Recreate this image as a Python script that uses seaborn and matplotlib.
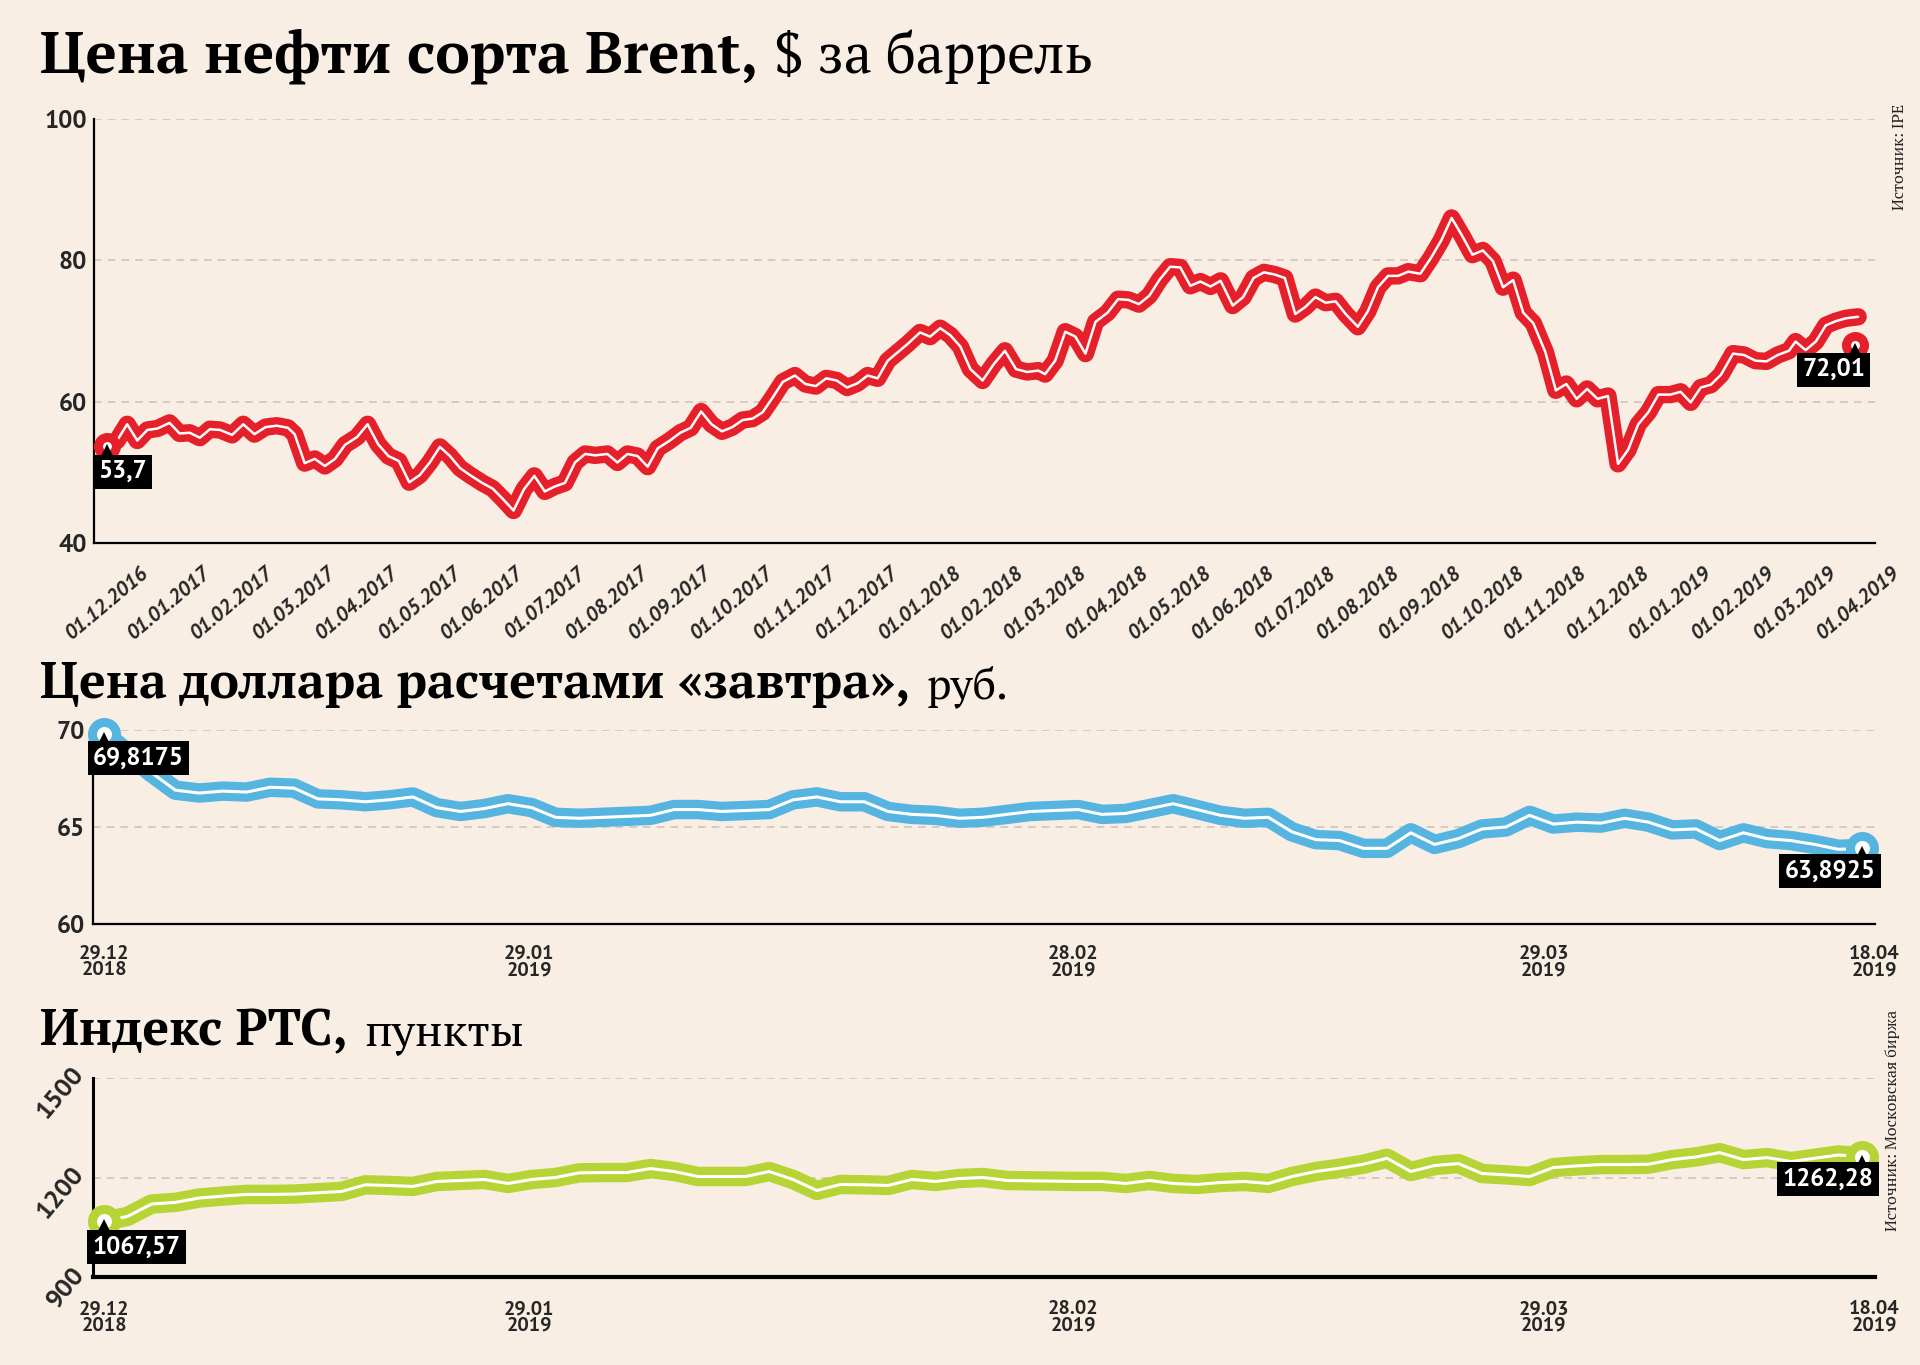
import numpy as np
import pandas as pd
import seaborn as sns
import matplotlib
matplotlib.use("Agg")
import matplotlib.pyplot as plt
from matplotlib import font_manager as fm
from matplotlib.transforms import ScaledTranslation

# ---------------- DATA ----------------
brent_month_labels = ["01.12.2016", "01.01.2017", "01.02.2017", "01.03.2017", "01.04.2017",
                      "01.05.2017", "01.06.2017", "01.07.2017", "01.08.2017", "01.09.2017",
                      "01.10.2017", "01.11.2017", "01.12.2017", "01.01.2018", "01.02.2018",
                      "01.03.2018", "01.04.2018", "01.05.2018", "01.06.2018", "01.07.2018",
                      "01.08.2018", "01.09.2018", "01.10.2018", "01.11.2018", "01.12.2018",
                      "01.01.2019", "01.02.2019", "01.03.2019", "01.04.2019"]
brent_sample_days = [1, 6, 11, 16, 21, 26]
brent_values = [
    53.7, 54.5, 56.8, 54.5, 56.0, 56.2,   # 12.2016
    57.0, 55.5, 55.6, 54.9, 56.1, 56.0,   # 01.2017
    55.3, 56.8, 55.4, 56.4, 56.6, 56.3,
    55.4, 51.3, 51.9, 50.9, 51.9, 53.9,
    55.0, 56.8, 54.0, 52.3, 51.6, 48.6,
    49.6, 51.4, 53.6, 52.3, 50.6, 49.6,
    48.5, 47.7, 46.2, 44.6, 47.6, 49.5,
    47.3, 48.0, 48.5, 51.4, 52.6, 52.4,
    52.6, 51.4, 52.6, 52.3, 50.8, 53.4,
    54.5, 55.6, 56.3, 58.6, 56.8, 55.8,
    56.4, 57.4, 57.6, 58.5, 60.6, 62.8,
    63.7, 62.5, 62.2, 63.3, 63.0, 62.0,
    62.6, 63.7, 63.3, 65.8, 67.0, 68.2,   # 12.2017
    69.8, 69.2, 70.4, 69.4, 67.8, 64.6,   # 01.2018
    63.0, 65.3, 67.2, 64.6, 64.2, 64.4,
    63.9, 65.8, 69.9, 69.2, 66.8, 71.3,
    72.6, 74.5, 74.4, 73.8, 75.0, 77.3,
    79.1, 79.0, 76.4, 77.0, 76.3, 77.1,
    73.6, 74.8, 77.5, 78.3, 78.0, 77.5,
    72.4, 73.4, 74.8, 74.0, 74.2, 72.4,
    70.6, 72.8, 76.2, 77.8, 77.8, 78.4,
    78.1, 80.3, 82.8, 86.0, 83.5, 80.8,
    81.4, 79.9, 76.2, 77.2, 72.6, 71.1,
    67.0, 61.6, 62.5, 60.4, 61.8, 60.4,
    60.8, 51.2, 53.2, 56.8, 58.5, 61.0,   # 12.2018
    61.0, 61.4, 59.9, 62.0, 62.4, 63.8,   # 01.2019
    66.8, 66.6, 65.8, 65.7, 66.6, 67.2,
    68.5, 67.3, 68.5, 70.8, 71.4, 71.8,
    72.01,                                # 01.04.2019
]
brent_first_label = "53,7"
brent_last_label = "72,01"
brent_end_marker_value = 68.0

usd_values = [
    69.8175, 68.8, 67.8, 66.9, 66.75, 66.85, 66.8, 67.05, 67.0, 66.45,
    66.4, 66.3, 66.4, 66.55, 66.0, 65.8, 65.95, 66.2, 66.0, 65.5,
    65.45, 65.5, 65.55, 65.6, 65.9, 65.9, 65.8, 65.85, 65.9, 66.4,
    66.55, 66.3, 66.3, 65.8, 65.65, 65.6, 65.45, 65.5, 65.65, 65.8,
    65.85, 65.9, 65.65, 65.7, 65.95, 66.2, 65.9, 65.6, 65.45, 65.5,
    64.75, 64.35, 64.3, 63.9, 63.9, 64.7, 64.1, 64.4, 64.9, 65.0,
    65.6, 65.15, 65.25, 65.2, 65.45, 65.25, 64.85, 64.9, 64.3, 64.7,
    64.4, 64.3, 64.1, 63.85, 63.8925,
]
usd_first_label = "69,8175"
usd_last_label = "63,8925"

rts_values = [
    1067.57, 1083, 1120, 1125, 1138, 1144, 1149, 1149, 1150, 1154,
    1158, 1178, 1176, 1173, 1188, 1191, 1194, 1182, 1194, 1200,
    1214, 1215, 1215, 1227, 1218, 1203, 1203, 1203, 1218, 1194,
    1161, 1179, 1178, 1176, 1194, 1188, 1197, 1200, 1191, 1190,
    1189, 1188, 1188, 1182, 1191, 1182, 1179, 1185, 1188, 1182,
    1203, 1218, 1228, 1240, 1258, 1218, 1236, 1242, 1212, 1208,
    1203, 1230, 1235, 1239, 1239, 1240, 1254, 1262, 1275, 1254,
    1260, 1248, 1258, 1268, 1262.28,
]
rts_first_label = "1067,57"
rts_last_label = "1262,28"

session_tick_labels = ["29.12\n2018", "29.01\n2019", "28.02\n2019", "29.03\n2019", "18.04\n2019"]
session_tick_index = [0, 17.9, 40.8, 60.6, 74.5]

title1 = ("Цена нефти сорта Brent,", "$ за баррель")
title2 = ("Цена доллара расчетами «завтра»,", "руб.")
title3 = ("Индекс РТС,", "пункты")
source1 = "Источник: IPE"
source2 = "Источник: Московская биржа"

# ---------------- STYLE ----------------
BG = "#F9EEE3"
RED = "#E5202A"
BLUE = "#55B5E0"
GREEN = "#B7D436"
GRID = "#C9C1B8"

sns.set_theme(style="white")
names = {f.name for f in fm.fontManager.ttflist}


def pick(*cands):
    for c in cands:
        if c in names:
            return c
    return "DejaVu Sans"


SANS = pick("PT Sans", "Fira Sans", "Roboto Condensed", "DejaVu Sans")
SERIF = pick("PT Serif", "Noto Serif", "DejaVu Serif")
plt.rcParams["font.family"] = [SANS, "DejaVu Sans"]

W, H = 1920, 1365
fig = plt.figure(figsize=(W / 100, H / 100), dpi=100, facecolor=BG)


def ax_rect(x0, y_top, x1, y_bot):
    return [x0 / W, 1 - y_bot / H, (x1 - x0) / W, (y_bot - y_top) / H]


def px(p):
    return p * 0.72  # pixels -> points


def style_axis(ax):
    ax.set_facecolor("none")
    for s in ["top", "right"]:
        ax.spines[s].set_visible(False)
    for s in ["left", "bottom"]:
        ax.spines[s].set_color("black")
    ax.grid(False)


def gridlines(ax, vals, x0, x1):
    for v in vals:
        ax.plot([x0, x1], [v, v], color=GRID, lw=1.1, ls=(0, (5, 4)), zorder=1)


def draw_series(ax, x, y, color, lw_band, lw_white):
    sns.lineplot(x=x, y=y, ax=ax, color=color, lw=lw_band, estimator=None, sort=False,
                 solid_joinstyle="round", solid_capstyle="round", clip_on=False, zorder=3)
    sns.lineplot(x=x, y=y, ax=ax, color="white", lw=lw_white, estimator=None, sort=False,
                 solid_joinstyle="round", solid_capstyle="round", clip_on=False, zorder=4)


def value_tag(ax, x, y, text, color, side, ms, mew, dx_px, dy_px, fs):
    ax.plot([x], [y], marker="o", ms=ms, mfc="white", mec=color, mew=mew,
            clip_on=False, zorder=6)
    tri_tr = ax.transData + ScaledTranslation(0, -px(7) / 72, fig.dpi_scale_trans)
    ax.plot([x], [y], marker="^", ms=px(18), color="black", mew=0,
            transform=tri_tr, clip_on=False, zorder=7)
    ha = "left" if side == "left" else "right"
    ax.annotate(text, xy=(x, y), xytext=(px(dx_px), -px(dy_px)), textcoords="offset points",
                ha=ha, va="top", color="white", fontsize=fs, fontweight="bold",
                bbox=dict(boxstyle="square,pad=0.22", fc="black", ec="none"),
                zorder=8, annotation_clip=False)


# ---------------- BRENT ----------------
months = pd.date_range("2016-12-01", periods=28, freq="MS")
brent_dates = [m + pd.Timedelta(days=d - 1) for m in months for d in brent_sample_days]
brent_dates.append(pd.Timestamp("2019-04-01"))
brent_pos = [(d.year - 2016) * 12 + d.month - 12 + (d.day - 1) / d.days_in_month for d in brent_dates]

ax1 = fig.add_axes(ax_rect(94, 119, 1875, 543))
style_axis(ax1)
x_lo, x_hi = -13 / 62.54, (1875 - 107) / 62.54
ax1.set_xlim(x_lo, x_hi)
ax1.set_ylim(40, 100)
gridlines(ax1, [60, 80, 100], x_lo, x_hi)
draw_series(ax1, brent_pos, brent_values, RED, 12.5, 1.8)
value_tag(ax1, brent_pos[0], brent_values[0], brent_first_label, RED, "left",
          px(18), px(9), -9, 14, 18)
value_tag(ax1, brent_pos[-1] - 0.05, brent_end_marker_value, brent_last_label, RED, "right",
          px(18), px(9), 10, 13, 18)
ax1.set_xticks(range(len(brent_month_labels)))
ax1.set_xticklabels(brent_month_labels, rotation=40, fontsize=15, fontweight="bold",
                    fontstyle="italic")
ax1.set_yticks([40, 60, 80, 100])
ax1.set_yticklabels(["40", "60", "80", "100"], fontsize=18, fontweight="bold")
ax1.tick_params(axis="x", direction="out", length=px(19), width=1.4, pad=1, color="black")
ax1.tick_params(axis="y", length=0, pad=5)
ax1.spines["left"].set_linewidth(1.6)
ax1.spines["bottom"].set_linewidth(1.6)

# ---------------- USD ----------------
idx = np.arange(len(usd_values))
sx_lo, sx_hi = -11 / 23.76, (1875 - 104) / 23.76

ax2 = fig.add_axes(ax_rect(93, 730, 1875, 924))
style_axis(ax2)
ax2.set_xlim(sx_lo, sx_hi)
ax2.set_ylim(60, 70)
gridlines(ax2, [65, 70], sx_lo, sx_hi)
draw_series(ax2, idx, usd_values, BLUE, 14, 2.2)
value_tag(ax2, idx[0], usd_values[0], usd_first_label, BLUE, "left",
          px(24), px(9), -11, 13, 18)
value_tag(ax2, idx[-1], usd_values[-1], usd_last_label, BLUE, "right",
          px(24), px(9), 13, 11, 18)
ax2.set_xticks(session_tick_index)
ax2.set_xticklabels(session_tick_labels, fontsize=14.5, fontweight="bold", linespacing=0.9)
ax2.set_yticks([60, 65, 70])
ax2.set_yticklabels(["60", "65", "70"], fontsize=18, fontweight="bold")
ax2.tick_params(axis="x", direction="out", length=px(18), width=1.4, pad=2, color="black")
ax2.tick_params(axis="y", length=0, pad=6)
ax2.spines["left"].set_linewidth(1.6)
ax2.spines["bottom"].set_linewidth(1.6)

# ---------------- RTS ----------------
ax3 = fig.add_axes(ax_rect(93, 1078, 1875, 1277))
style_axis(ax3)
ax3.set_xlim(sx_lo, sx_hi)
ax3.set_ylim(900, 1500)
gridlines(ax3, [1200, 1500], sx_lo, sx_hi)
draw_series(ax3, idx, rts_values, GREEN, 14, 2.2)
value_tag(ax3, idx[0], rts_values[0], rts_first_label, GREEN, "left",
          px(24), px(9), -12, 14, 18)
value_tag(ax3, idx[-1], rts_values[-1], rts_last_label, GREEN, "right",
          px(24), px(9), 11, 11, 18)
ax3.set_xticks(session_tick_index)
ax3.set_xticklabels(session_tick_labels, fontsize=14.5, fontweight="bold", linespacing=0.9)
ax3.set_yticks([900, 1200, 1500])
ax3.set_yticklabels(["900", "1200", "1500"], fontsize=19, fontweight="bold", rotation=50,
                    rotation_mode="anchor", ha="right", va="bottom")
ax3.tick_params(axis="x", direction="out", length=px(19), width=1.4, pad=3, color="black")
ax3.tick_params(axis="y", direction="in", length=px(43), width=2.4, pad=3, color="black")
ax3.spines["left"].set_linewidth(2.2)
ax3.spines["bottom"].set_linewidth(3.0)

# ---------------- TITLES ----------------
renderer = fig.canvas.get_renderer()


def fitted_text(x_px, base_px, s, target_w, weight, fs0, fs_max):
    t = fig.text(x_px / W, 1 - base_px / H, s, fontsize=fs0, family=[SERIF, "DejaVu Serif"],
                 fontweight=weight, va="baseline", ha="left", color="black")
    w = t.get_window_extent(renderer).width
    t.set_fontsize(min(fs0 * target_w / w, fs_max))
    return t


def title(x0, base, bold_s, reg_s, bold_w, reg_w, fs_max):
    tb = fitted_text(x0, base, bold_s, bold_w, "bold", 36, fs_max)
    x_end = tb.get_window_extent(renderer).x1
    fitted_text(x_end + 16, base, reg_s, reg_w, "normal", 36, fs_max)


title(40, 73, title1[0], title1[1], 753, 319, 42)
title(40, 698, title2[0], title2[1], 891, 82, 36)
title(40, 1045, title3[0], title3[1], 313, 160, 36)

fig.text(1899 / W, 1 - 104 / H, source1, rotation=90, ha="center", va="top",
         fontsize=11.5, family=[SERIF, "DejaVu Serif"], color="#222222")
fig.text(1892 / W, 1 - 1010 / H, source2, rotation=90, ha="center", va="top",
         fontsize=11.5, family=[SERIF, "DejaVu Serif"], color="#222222")

fig.savefig("out.png", dpi=100, facecolor=BG)
